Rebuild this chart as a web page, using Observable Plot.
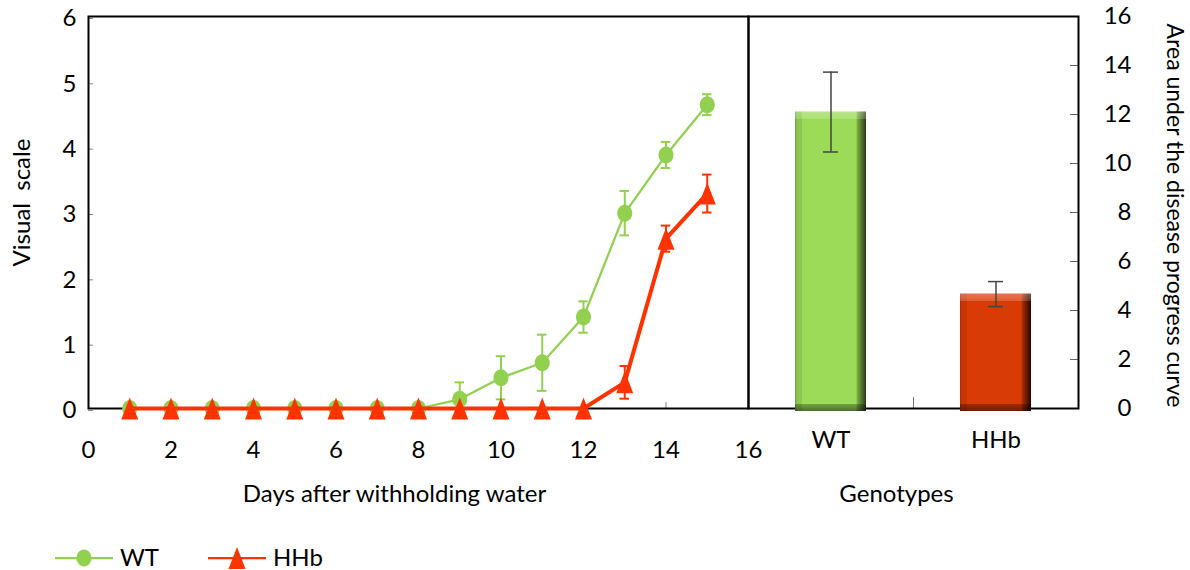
<!DOCTYPE html>
<html>
<head>
<meta charset="utf-8">
<script src="https://cdn.jsdelivr.net/npm/d3@7"></script>
<script src="https://cdn.jsdelivr.net/npm/@observablehq/plot@0.6"></script>
<style>
  body { margin: 0; background: #fff; }
  #chart { position: relative; width: 1190px; height: 570px; font-family: Lato, "Open Sans", sans-serif; color: #000; }
  #chart > svg { position: absolute; top: 0; }
</style>
</head>
<body>
<div id="chart"></div>
<script>
// Disease score per day after water was withheld (mean ± SE)
const days = [1, 2, 3, 4, 5, 6, 7, 8, 9, 10, 11, 12, 13, 14, 15];
const wtMean = [0, 0, 0, 0, 0, 0, 0, 0, 0.14, 0.47, 0.70, 1.40, 2.99, 3.88, 4.65];
const wtSE   = [0, 0, 0, 0, 0, 0, 0, 0, 0.26, 0.33, 0.43, 0.24, 0.34, 0.20, 0.16];
const hhbMean = [0, 0, 0, 0, 0, 0, 0, 0, 0, 0, 0, 0, 0.40, 2.60, 3.29];
const hhbSE   = [0, 0, 0, 0, 0, 0, 0, 0, 0, 0, 0, 0, 0.25, 0.20, 0.29];

// Area under the disease progress curve per genotype (mean ± SE)
const genotypes = ["WT", "HHb"];
const audpcMean = [12.1, 4.67];
const audpcSE = [1.63, 0.51];

const visualTicks = [0, 1, 2, 3, 4, 5, 6];
const dayTicks = [0, 2, 4, 6, 8, 10, 12, 14, 16];
const audpcTicks = [0, 2, 4, 6, 8, 10, 12, 14, 16];

const wtColor = "#92D050";
const hhbColor = "#FF3300";
const font = "Lato, 'Open Sans', sans-serif";
const fontSize = 24;

const rows = (mean, se) => days.map((day, i) => ({day, mean: mean[i], se: se[i]}));
const wtRows = rows(wtMean, wtSE);
const hhbRows = rows(hhbMean, hhbSE);
const barRows = genotypes.map((g, i) => ({g, v: audpcMean[i], se: audpcSE[i]}));

// Marker shapes: a slightly tall ellipse and a tall triangle
const ellipseSymbol = {
  draw(ctx) {
    const rx = 7.5, ry = 8.5, k = 0.5523;
    ctx.moveTo(rx, 0);
    ctx.bezierCurveTo(rx, ry * k, rx * k, ry, 0, ry);
    ctx.bezierCurveTo(-rx * k, ry, -rx, ry * k, -rx, 0);
    ctx.bezierCurveTo(-rx, -ry * k, -rx * k, -ry, 0, -ry);
    ctx.bezierCurveTo(rx * k, -ry, rx, -ry * k, rx, 0);
    ctx.closePath();
  }
};
const triangleSymbol = {
  draw(ctx) {
    ctx.moveTo(0, -11);
    ctx.lineTo(8.5, 11);
    ctx.lineTo(-8.5, 11);
    ctx.closePath();
  }
};

const capHalf = 0.115; // half-width of error-bar caps, in days
const plain = d => String(d);

function seriesMarks(data, color, width, symbol) {
  const withErr = data.filter(d => d.se > 0);
  return [
    Plot.ruleX(withErr, {x: "day", y1: d => d.mean - d.se, y2: d => d.mean + d.se, stroke: color, strokeWidth: 2}),
    Plot.ruleY(withErr, {y: d => d.mean + d.se, x1: d => d.day - capHalf, x2: d => d.day + capHalf, stroke: color, strokeWidth: 2}),
    Plot.ruleY(withErr, {y: d => d.mean - d.se, x1: d => d.day - capHalf, x2: d => d.day + capHalf, stroke: color, strokeWidth: 2}),
    Plot.line(data, {x: "day", y: "mean", stroke: color, strokeWidth: width}),
    Plot.dot(data, {x: "day", y: "mean", symbol, fill: color, stroke: "none"})
  ];
}

const transparent = {background: "transparent", overflow: "visible", fontFamily: font, fontSize: `${fontSize}px`, color: "#000"};

// Left panel: visual scale over time
const linePlot = Plot.plot({
  width: 760,
  height: 520,
  marginLeft: 88,
  marginRight: 12,
  marginTop: 16,
  marginBottom: 112,
  style: transparent,
  x: {domain: [0, 16]},
  y: {domain: [0, 6]},
  marks: [
    Plot.axisY(visualTicks, {tickSize: -5, tickPadding: 17, tickFormat: plain, stroke: "#888", fill: "#000", label: null, dy: 2}),
    Plot.axisX(dayTicks, {tickSize: -6, tickPadding: 38, tickFormat: plain, stroke: "#888", fill: "#000", label: null}),
    Plot.frame({stroke: "#000", strokeWidth: 2}),
    ...seriesMarks(wtRows, wtColor, 2.25, ellipseSymbol),
    ...seriesMarks(hhbRows, hhbColor, 4, triangleSymbol),
    Plot.text(["Visual\u00a0 scale"], {text: d => d, frameAnchor: "left", textAnchor: "middle", rotate: -90, dx: -66, dy: -10, fontSize}),
    Plot.text(["Days after withholding water"], {text: d => d, frameAnchor: "bottom", textAnchor: "middle", dx: -24, dy: 93, fontSize})
  ]
});

// Bevelled bar fills: face gradient across the bar, and top/bottom shading sized to each bar
const palettes = {
  WT: {edgeL: "#6f9c3c", bevelL: "#8cc74f", face: "#9bdb58", edgeR1: "#79a944", edgeR2: "#4a6d27", edgeR3: "#27391a"},
  HHb: {edgeL: "#a82c04", bevelL: "#c93606", face: "#d93b06", edgeR1: "#a72c05", edgeR2: "#5c1802", edgeR3: "#260700"}
};
function bevelDefs(index, scales) {
  const ns = "http://www.w3.org/2000/svg";
  const defs = document.createElementNS(ns, "defs");
  const grad = (id, vertical, stops) => {
    const g = document.createElementNS(ns, "linearGradient");
    g.setAttribute("id", id);
    g.setAttribute("x1", 0); g.setAttribute("y1", 0);
    g.setAttribute("x2", vertical ? 0 : 1); g.setAttribute("y2", vertical ? 1 : 0);
    for (const [o, c, a] of stops) {
      const s = document.createElementNS(ns, "stop");
      s.setAttribute("offset", o);
      s.setAttribute("stop-color", c);
      s.setAttribute("stop-opacity", a ?? 1);
      g.appendChild(s);
    }
    defs.appendChild(g);
  };
  for (const d of barRows) {
    const p = palettes[d.g];
    grad(`face-${d.g}`, false, [
      [0, p.edgeL], [0.03, p.bevelL], [0.1, p.bevelL], [0.1, p.face],
      [0.86, p.face], [0.88, p.edgeR1], [0.95, p.edgeR2], [1, p.edgeR3]
    ]);
    const h = Math.abs(scales.y(0) - scales.y(d.v));
    const f = 7 / h;
    grad(`shade-${d.g}`, true, [
      [0, "#fff", 0.3], [f, "#fff", 0.18], [f, "#fff", 0],
      [1 - f, "#000", 0], [1 - f, "#000", 0.25], [1, "#000", 0.5]
    ]);
  }
  return defs;
}

// Right panel: AUDPC per genotype
const barPlot = Plot.plot({
  width: 450,
  height: 520,
  marginLeft: 8,
  marginRight: 112,
  marginTop: 16,
  marginBottom: 112,
  style: transparent,
  x: {domain: genotypes, paddingInner: 0.57, paddingOuter: 0.285},
  y: {domain: [0, 16]},
  marks: [
    bevelDefs,
    Plot.axisY(audpcTicks, {anchor: "right", tickSize: -9, tickPadding: 62, textAnchor: "end", tickFormat: plain, stroke: "#666", fill: "#000", label: null}),
    Plot.axisX(genotypes, {tickSize: 0, tickPadding: 22, fill: "#000", label: null}),
    Plot.ruleX(["WT"], {x: d => d, y1: 0, y2: 0.45, dx: 82.5, stroke: "#777"}),
    Plot.frame({stroke: "#000", strokeWidth: 2}),
    ...genotypes.flatMap(g => [
      Plot.barY(barRows.filter(d => d.g === g), {x: "g", y: "v", fill: `url(#face-${g})`, insetBottom: -3}),
      Plot.barY(barRows.filter(d => d.g === g), {x: "g", y: "v", fill: `url(#shade-${g})`, insetBottom: -3})
    ]),
    Plot.ruleX(barRows, {x: "g", y1: d => d.v - d.se, y2: d => d.v + d.se, stroke: "#444", strokeWidth: 1.5}),
    Plot.tickY(barRows, {x: "g", y: d => d.v + d.se, insetLeft: 28, insetRight: 28, stroke: "#444", strokeWidth: 1.5}),
    Plot.tickY(barRows, {x: "g", y: d => d.v - d.se, insetLeft: 28, insetRight: 28, stroke: "#444", strokeWidth: 1.5}),
    Plot.text(["Area under the disease progress curve"], {text: d => d, frameAnchor: "right", textAnchor: "middle", rotate: 90, dx: 96, dy: 3, fontSize: 23}),
    Plot.text(["Genotypes"], {text: d => d, frameAnchor: "bottom", textAnchor: "middle", dx: -17, dy: 93, fontSize})
  ]
});
barPlot.style.left = "740px";

const chart = document.getElementById("chart");
linePlot.style.left = "0px";
chart.appendChild(linePlot);
chart.appendChild(barPlot);

// Series legend below the panels
const legend = d3.create("svg")
  .attr("width", 1190).attr("height", 40)
  .style("position", "absolute").style("left", "0px").style("top", "530px")
  .style("font-family", font).style("font-size", `${fontSize}px`);
const legendItems = [
  {name: "WT", color: wtColor, symbol: ellipseSymbol, x0: 55},
  {name: "HHb", color: hhbColor, symbol: triangleSymbol, x0: 208}
];
for (const it of legendItems) {
  const g = legend.append("g").attr("transform", `translate(${it.x0},28)`);
  g.append("line").attr("x1", 0).attr("x2", 58).attr("stroke", it.color).attr("stroke-width", 2.25);
  g.append("path").attr("transform", "translate(29,0)").attr("fill", it.color)
    .attr("d", d3.symbol(it.symbol)());
  g.append("text").attr("x", 65).attr("dy", "0.35em").text(it.name);
}
chart.appendChild(legend.node());
</script>
</body>
</html>
